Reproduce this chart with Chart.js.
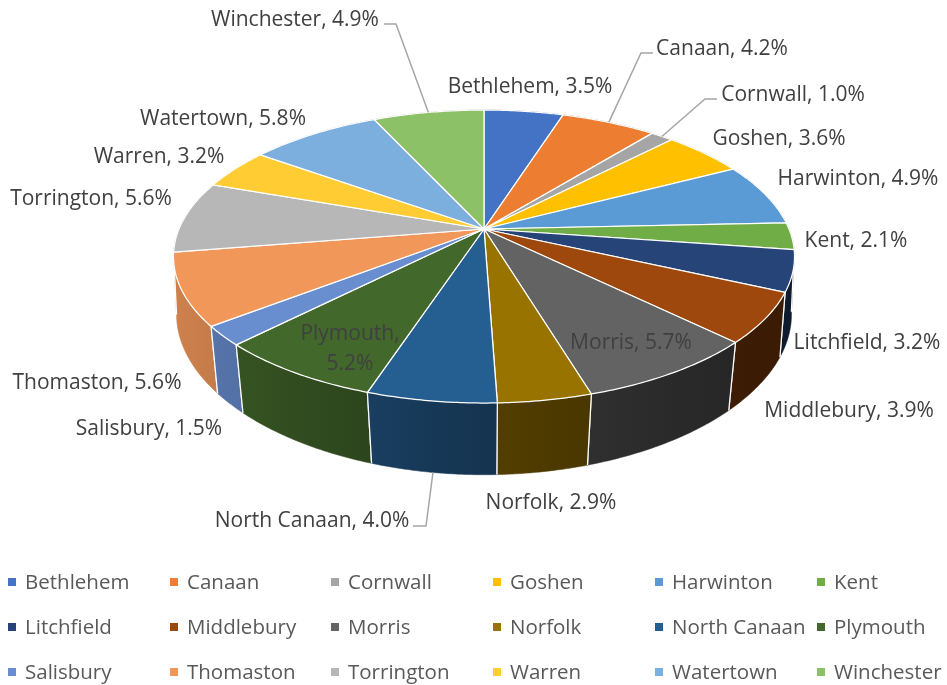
<!DOCTYPE html>
<html>
<head>
<meta charset="utf-8">
<style>
  html, body { margin: 0; padding: 0; background: #fff; }
  #box { width: 947px; height: 685px; }
</style>
<script src="https://cdn.jsdelivr.net/npm/chart.js@4/dist/chart.umd.min.js"></script>
</head>
<body>
<div id="box"><canvas id="myChart" width="947" height="685"></canvas></div>
<script>
const towns = ['Bethlehem', 'Canaan', 'Cornwall', 'Goshen', 'Harwinton', 'Kent', 'Litchfield', 'Middlebury', 'Morris', 'Norfolk', 'North Canaan', 'Plymouth', 'Salisbury', 'Thomaston', 'Torrington', 'Warren', 'Watertown', 'Winchester'];
const shares = [3.5, 4.2, 1.0, 3.6, 4.9, 2.1, 3.2, 3.9, 5.7, 2.9, 4.0, 5.2, 1.5, 5.6, 5.6, 3.2, 5.8, 4.9];
const colors = ['#4472C4', '#ED7D31', '#A5A5A5', '#FFC000', '#5B9BD5', '#70AD47', '#264478', '#9E480E', '#636363', '#997300', '#255E91', '#43682B', '#698ED0', '#F1975A', '#B7B7B7', '#FFCD33', '#7CAFDD', '#8CC168'];

// label centres, same order as towns
const labelX = [530, 722, 793, 779, 858, 856, 867, 849, 631, 551, 312, 350, 149, 97, 91, 159, 223, 295];
const labelY = [87, 49, 95, 139, 179, 241, 343, 411, 343, 503, 521, 334, 429, 383, 199, 157, 119, 20];

// leader lines: town index -> text end, elbow, which rim it lands on
const leaders = [
    { i: 17, from: [384, 24], elbow: [396, 24], rim: 'top' },
    { i: 1, from: [653, 53], elbow: [641, 53], rim: 'top' },
    { i: 2, from: [717, 99], elbow: [705, 99], rim: 'top' },
    { i: 10, from: [413, 526], elbow: [426, 526], rim: 'bottom' }
];

const legendCols = [8, 170, 331, 493, 655, 817];
const legendRows = [582, 627, 672];

const font = '"Open Sans"';
const labelSize = 21;
const legendSize = 20.5;

// perspective of the disc, as fractions of the pie radius
const tilt = 0.188;
const pivotLift = 76;
const topRim = { dy: 0, ry: 0.4633, rx: 1.0, xTilt: 0.188 };
const bottomRim = { dy: 0.2, ry: 0.4918, rx: 0.995, xTilt: 0.16 };

function project(arc, angle, rim) {
    const u = Math.cos(angle);
    const v = Math.sin(angle);
    const s = 1 / (1 - tilt * v);
    const sx = 1 / (1 - rim.xTilt * v);
    const r = arc.outerRadius;
    return {
        x: arc.x + r * rim.rx * u * sx,
        y: arc.y - pivotLift + r * rim.dy + r * rim.ry * v * s
    };
}

function rimPoints(arc, rim) {
    const pts = [];
    const steps = 40;
    for (let i = 0; i <= steps; i++) {
        const a = arc.startAngle + (arc.endAngle - arc.startAngle) * i / steps;
        pts.push(project(arc, a, rim));
    }
    return pts;
}

function shade(hex, m) {
    const n = parseInt(hex.slice(1), 16);
    const r = Math.round((n >> 16 & 255) * m);
    const g = Math.round((n >> 8 & 255) * m);
    const b = Math.round((n & 255) * m);
    return `rgb(${r},${g},${b})`;
}

// side wall gets darker towards the right
function wallLight(u) {
    if (u < 0) return 0.55 - 0.3 * u;
    return Math.max(0.38, 0.55 - 0.2 * u);
}

function drawWall(ctx, arc, color) {
    const top = rimPoints(arc, topRim);
    const bottom = rimPoints(arc, bottomRim);
    const x1 = top[0].x;
    const x2 = top[top.length - 1].x;
    const r = arc.outerRadius;
    const grad = ctx.createLinearGradient(x1, 0, x2 === x1 ? x1 + 1 : x2, 0);
    grad.addColorStop(0, shade(color, wallLight((x1 - arc.x) / r)));
    grad.addColorStop(1, shade(color, wallLight((x2 - arc.x) / r)));
    ctx.beginPath();
    top.forEach((p, i) => i ? ctx.lineTo(p.x, p.y) : ctx.moveTo(p.x, p.y));
    for (let i = bottom.length - 1; i >= 0; i--) ctx.lineTo(bottom[i].x, bottom[i].y);
    ctx.closePath();
    ctx.fillStyle = grad;
    ctx.fill();
    ctx.strokeStyle = grad;
    ctx.lineWidth = 0.5;
    ctx.stroke();
    // white edges between the walls
    ctx.beginPath();
    ctx.moveTo(top[0].x, top[0].y);
    ctx.lineTo(bottom[0].x, bottom[0].y);
    ctx.moveTo(top[top.length - 1].x, top[top.length - 1].y);
    ctx.lineTo(bottom[bottom.length - 1].x, bottom[bottom.length - 1].y);
    ctx.strokeStyle = '#ffffff';
    ctx.lineWidth = 1.25;
    ctx.stroke();
}

function drawFace(ctx, arc, color) {
    const apex = project(arc, 0, { dy: 0, ry: 0, rx: 0, xTilt: 0 });
    const top = rimPoints(arc, topRim);
    ctx.beginPath();
    ctx.moveTo(apex.x, apex.y);
    top.forEach(p => ctx.lineTo(p.x, p.y));
    ctx.closePath();
    ctx.fillStyle = color;
    ctx.fill();
    ctx.strokeStyle = '#ffffff';
    ctx.lineWidth = 1.25;
    ctx.lineJoin = 'round';
    ctx.stroke();
}

const pie3d = {
    id: 'pie3d',
    beforeDatasetsDraw(chart) {
        const ctx = chart.ctx;
        const arcs = chart.getDatasetMeta(0).data;
        const order = arcs.map((a, i) => i);
        order.sort((p, q) => {
            const mp = (arcs[p].startAngle + arcs[p].endAngle) / 2;
            const mq = (arcs[q].startAngle + arcs[q].endAngle) / 2;
            return Math.sin(mp) - Math.sin(mq);
        });
        ctx.save();
        order.forEach(i => drawWall(ctx, arcs[i], colors[i]));
        arcs.forEach((a, i) => drawFace(ctx, a, colors[i]));
        ctx.restore();
        return false;
    },
    afterDraw(chart) {
        const ctx = chart.ctx;
        const arcs = chart.getDatasetMeta(0).data;
        ctx.save();

        ctx.strokeStyle = '#a6a6a6';
        ctx.lineWidth = 1.5;
        leaders.forEach(l => {
            const a = arcs[l.i];
            const end = project(a, (a.startAngle + a.endAngle) / 2, l.rim === 'top' ? topRim : bottomRim);
            ctx.beginPath();
            ctx.moveTo(l.from[0], l.from[1]);
            ctx.lineTo(l.elbow[0], l.elbow[1]);
            ctx.lineTo(end.x, end.y);
            ctx.stroke();
        });

        ctx.fillStyle = '#404040';
        ctx.font = `${labelSize}px ${font}`;
        ctx.textAlign = 'center';
        ctx.textBaseline = 'middle';
        towns.forEach((t, i) => {
            if (t === 'Plymouth') {
                ctx.fillText(`${t},`, labelX[i], labelY[i]);
                ctx.fillText(`${shares[i].toFixed(1)}%`, labelX[i], labelY[i] + 30);
            } else {
                ctx.fillText(`${t}, ${shares[i].toFixed(1)}%`, labelX[i], labelY[i]);
            }
        });

        ctx.textAlign = 'left';
        ctx.font = `${legendSize}px ${font}`;
        towns.forEach((t, i) => {
            const x = legendCols[i % legendCols.length];
            const y = legendRows[Math.floor(i / legendCols.length)];
            ctx.fillStyle = colors[i];
            ctx.fillRect(x, y - 4, 8, 8);
            ctx.fillStyle = '#595959';
            ctx.fillText(t, x + 17, y + 1);
        });
        ctx.restore();
    }
};

new Chart(document.getElementById('myChart').getContext('2d'), {
    type: 'pie',
    data: {
        labels: towns,
        datasets: [{ data: shares, backgroundColor: colors, borderWidth: 0 }]
    },
    options: {
        responsive: false,
        animation: false,
        events: [],
        layout: { padding: { left: 179, right: 158, top: 0, bottom: 75 } },
        plugins: { legend: { display: false }, tooltip: { enabled: false } }
    },
    plugins: [pie3d]
});
</script>
</body>
</html>
